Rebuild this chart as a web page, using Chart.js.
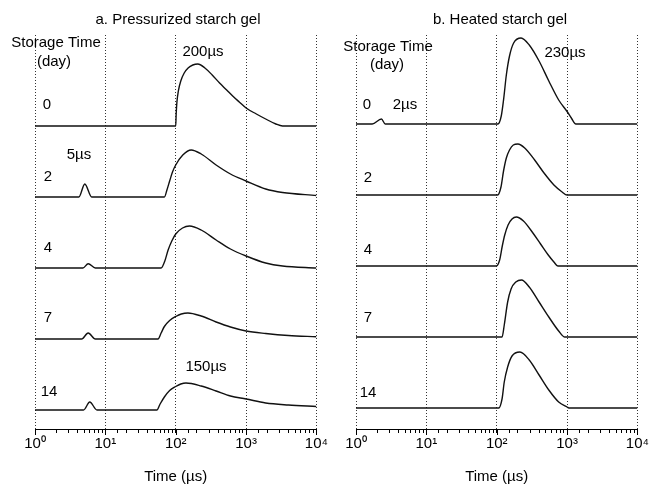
<!DOCTYPE html>
<html><head><meta charset="utf-8">
<script src="https://cdn.jsdelivr.net/npm/chart.js@4.4.1/dist/chart.umd.min.js"></script>
<style>
html,body{margin:0;padding:0;background:#fff;width:651px;height:486px;overflow:hidden}
canvas{position:absolute;top:0}
#ca{left:0}
#cb{left:330px}
</style></head><body>
<canvas id="ca" width="330" height="486"></canvas>
<canvas id="cb" width="321" height="486"></canvas>
<script>
// ---- data ----
const storageDays = ['0', '2', '4', '7', '14'];
const tickExponents = ['⁰', '¹', '²', '³', '⁴'];

// a. Pressurized starch gel: time (µs) and signal (arb.)
const aTime0 = [1, 100, 101.5, 104, 109, 118, 132, 150, 175, 206, 260, 330, 420, 530, 645, 800, 1000, 1400, 1900, 2650, 3300, 10000];
const aSig0  = [0, 0, 12, 24, 35, 45, 53, 58, 61, 62, 58, 51, 43, 36, 30, 24, 18, 12, 7, 2, 0, 0];
const aTime2 = [1, 4.2, 5.1, 6.4, 69, 75, 82, 90, 100, 126, 166, 230, 375, 600, 1000, 1900, 3300, 10000];
const aSig2  = [0, 0, 13, 0, 0, 7, 16, 25, 32, 42, 47, 43, 32, 23, 16, 8, 4.5, 1.5];
const aTime4 = [1, 4.8, 5.7, 7.2, 62, 70, 78, 88, 100, 125, 157, 230, 375, 600, 1000, 1900, 3300, 10000];
const aSig4  = [0, 0, 4.3, 0, 0, 7, 18, 27, 34, 40, 42, 38, 28, 19, 12, 5, 2, 0];
const aTime7 = [1, 4.6, 5.7, 7.2, 56, 62, 69, 82, 100, 120, 149, 230, 375, 600, 1000, 1900, 4000, 10000];
const aSig7  = [0, 0, 6, 0, 0, 6, 12.5, 18.5, 22.5, 25, 26, 23, 17, 12, 8, 5.5, 3.5, 2.3];
const aTime14 = [1, 4.9, 6.0, 7.6, 54, 60, 69, 82, 100, 118, 140, 230, 375, 600, 1000, 1900, 4000, 10000];
const aSig14  = [0, 0, 8, 0, 0, 6, 13, 19.5, 23.5, 26, 27, 24, 19, 14, 11, 7, 5, 3.5];

// b. Heated starch gel
const bTime0 = [1, 1.7, 2.3, 2.6, 104, 116, 126, 137, 152, 174, 222, 290, 400, 550, 760, 1000, 1150, 1330, 10000];
const bSig0  = [0, 0, 5, 0, 0, 8, 26, 49, 68, 81, 86, 79, 63, 43, 24, 12.5, 6, 0, 0];
const bTime2 = [1, 103, 115, 125, 137, 152, 172, 200, 250, 346, 470, 650, 850, 1000, 10000];
const bSig2  = [0, 0, 8, 24, 37, 45, 50, 51, 47, 35, 22, 10, 3, 0, 0];
const bTime4 = [1, 99, 110, 120, 130, 145, 165, 190, 240, 327, 420, 540, 650, 740, 10000];
const bSig4  = [0, 0, 6, 20, 31, 41, 47, 49, 45, 33, 22, 11, 4, 0, 0];
const bTime7 = [1, 119, 128, 143, 160, 187, 225, 290, 400, 550, 760, 930, 10000];
const bSig7  = [0, 0, 12, 35, 48, 55, 57, 50, 35, 20, 6, 0, 0];
const bTime14 = [1, 107, 119, 128, 143, 165, 214, 290, 400, 550, 760, 1000, 1060, 10000];
const bSig14  = [0, 0, 9, 26, 41, 52, 56, 48, 33, 18, 6, 1, 0, 0];

// ---- rendering ----
const FONT = "'Liberation Sans', Arial, sans-serif";
const isMajor = v => Math.abs(Math.log10(v) - Math.round(Math.log10(v))) < 1e-9;
const STEP = 71; // vertical stacking step between storage times

function buildDatasets(times, sigs, base) {
  const n = times.length;
  return times.map((t, i) => ({
    label: storageDays[i] + ' day',
    data: t.map((x, j) => ({ x: x, y: base + (n - 1 - i) * STEP + sigs[i][j] })),
    borderColor: '#111',
    borderWidth: 1.4,
    pointRadius: 0,
    fill: false,
    cubicInterpolationMode: 'monotone'
  }));
}

function textPlugin(items, originX) {
  return {
    id: 'texts',
    afterDraw(chart) {
      const ctx = chart.ctx;
      ctx.save();
      ctx.fillStyle = '#000';
      ctx.font = '15px ' + FONT;
      ctx.textAlign = 'center';
      ctx.textBaseline = 'middle';
      items.forEach(t => ctx.fillText(t.text, t.x - originX, t.y));
      ctx.restore();
    }
  };
}

const majorTicks = {
  id: 'majorTicks',
  afterDraw(chart) {
    const s = chart.scales.x, ctx = chart.ctx;
    ctx.save();
    ctx.strokeStyle = '#000';
    ctx.lineWidth = 1;
    s.ticks.forEach(t => {
      if (isMajor(t.value)) {
        const px = Math.round(s.getPixelForValue(t.value)) + 0.5;
        ctx.beginPath();
        ctx.moveTo(px, s.top);
        ctx.lineTo(px, s.top + 6);
        ctx.stroke();
      }
    });
    ctx.restore();
  }
};

function makeChart(id, datasets, padLeft, texts, originX) {
  return new Chart(document.getElementById(id), {
    type: 'line',
    data: { datasets: datasets },
    options: {
      responsive: false,
      animation: false,
      devicePixelRatio: 1,
      layout: { padding: { top: 35, left: padLeft, right: 13, bottom: 0 } },
      plugins: { legend: { display: false }, tooltip: { enabled: false }, title: { display: false } },
      scales: {
        x: {
          type: 'logarithmic', min: 1, max: 10000,
          afterFit(s) { s.height = 57; },
          grid: {
            color: c => (c.tick && isMajor(c.tick.value)) ? '#333' : 'rgba(0,0,0,0)',
            drawOnChartArea: true, drawTicks: true, tickLength: 4,
            tickColor: '#000', tickBorderDash: [], lineWidth: 1
          },
          border: { display: true, color: '#000', width: 1, dash: [1, 2] },
          ticks: {
            autoSkip: false, maxRotation: 0, minRotation: 0, padding: 2, color: '#000',
            font: { family: FONT, size: 15 },
            callback: v => isMajor(v) ? '10' + tickExponents[Math.round(Math.log10(v))] : ''
          },
          title: { display: true, text: 'Time (µs)', color: '#000', font: { family: FONT, size: 15 }, padding: { top: 4, bottom: 0 } }
        },
        y: { display: false, min: 0, max: 394 }
      }
    },
    plugins: [majorTicks, textPlugin(texts, originX)]
  });
}

const textsA = [
  { text: 'a. Pressurized starch gel', x: 178, y: 20 },
  { text: 'Storage Time', x: 56, y: 43 },
  { text: '(day)', x: 54, y: 62 },
  { text: '0', x: 47, y: 105 },
  { text: '200µs', x: 203, y: 52 },
  { text: '5µs', x: 79, y: 155 },
  { text: '2', x: 48, y: 177 },
  { text: '4', x: 48, y: 248 },
  { text: '7', x: 48, y: 318 },
  { text: '150µs', x: 206, y: 367 },
  { text: '14', x: 49, y: 392 }
];
const textsB = [
  { text: 'b. Heated starch gel', x: 500, y: 20 },
  { text: 'Storage Time', x: 388, y: 47 },
  { text: '(day)', x: 387, y: 65 },
  { text: '0', x: 367, y: 105 },
  { text: '2µs', x: 405, y: 105 },
  { text: '230µs', x: 565, y: 53 },
  { text: '2', x: 368, y: 178 },
  { text: '4', x: 368, y: 250 },
  { text: '7', x: 368, y: 318 },
  { text: '14', x: 368, y: 393 }
];

makeChart('ca',
  buildDatasets([aTime0, aTime2, aTime4, aTime7, aTime14], [aSig0, aSig2, aSig4, aSig7, aSig14], 19),
  35, textsA, 0);
makeChart('cb',
  buildDatasets([bTime0, bTime2, bTime4, bTime7, bTime14], [bSig0, bSig2, bSig4, bSig7, bSig14], 21),
  26, textsB, 330);
</script>
</body></html>
